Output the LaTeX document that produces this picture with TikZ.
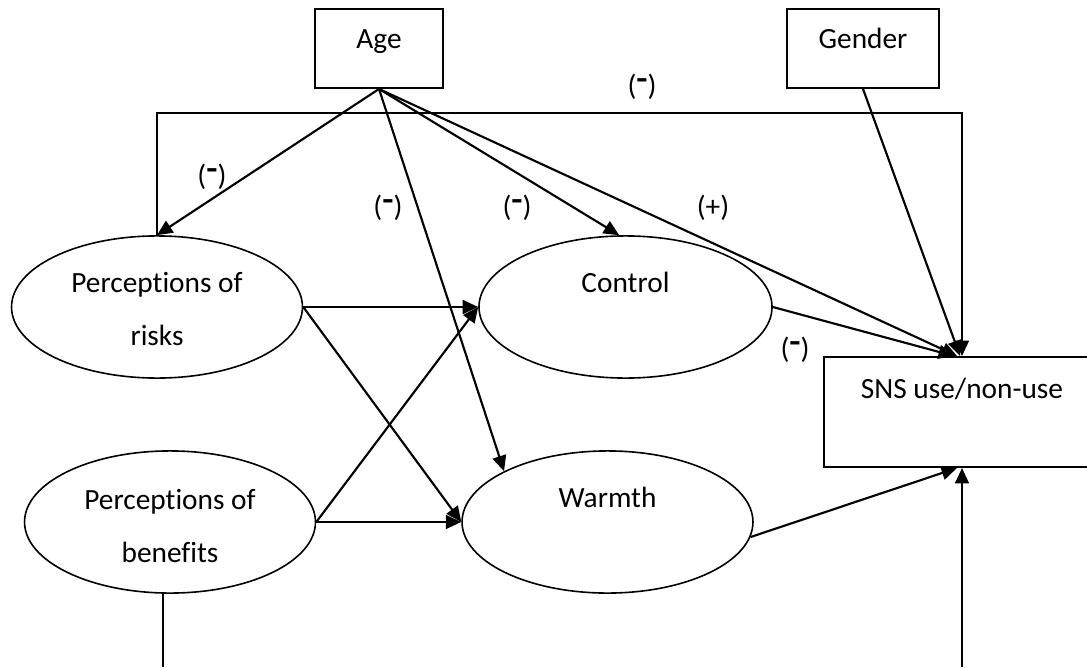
\documentclass[tikz,border=0pt]{standalone}
\usepackage{fontspec}
\setmainfont{Carlito}[Ligatures=NoCommon]
\usetikzlibrary{arrows.meta,shapes.geometric,calc}

% text lifted off the node centre without changing the node size
\newcommand\lift[2]{\raisebox{#1}[0pt][0pt]{\makebox[0pt]{#2}}}
\newcommand\twolines[2]{\parbox[t]{110pt}{\centering\baselineskip=19.9pt #1\\#2}}
\newcommand\negsign{(\raisebox{.2em}{\textbf{\scalebox{1.25}[1.1]{-}}})}

\begin{document}
\begin{tikzpicture}[
  x=0.375pt, y=-0.375pt,
  font=\fontsize{11}{13}\selectfont,
  latentell/.style={ellipse, draw, line width=0.6pt, inner sep=0pt,
                    minimum width=109.1pt, minimum height=53.3pt},
  obsbox/.style={rectangle, draw, line width=0.75pt, inner sep=0pt,
                 minimum height=29.6pt},
  effarrow/.style={line width=0.8pt, -{Triangle[length=5.8pt,width=5.2pt]}},
  plainline/.style={line width=0.75pt},
  signlabel/.style={inner sep=0pt}
]
\clip (0,0) rectangle (1087,667);
\useasboundingbox (0,0) rectangle (1087,667);

% observed variables
\node[obsbox, minimum width=48pt] (age) at (379,48.5) {\lift{0pt}{Age}};
\node[obsbox, minimum width=57pt] (gender) at (863,48.5) {\lift{0pt}{Gender}};
\node[obsbox, minimum width=103.5pt, minimum height=41.25pt] (sns) at (962,412)
     {\lift{4.9pt}{SNS use/non-use}};

% latent constructs
\node[latentell] (risks) at (157,307) {\lift{5.6pt}{\twolines{Perceptions of}{risks}}};
\node[latentell] (benefits) at (170,522) {\lift{4.7pt}{\twolines{Perceptions of}{benefits}}};
\node[latentell, minimum width=109.9pt] (ctrl) at (625.5,307) {\lift{5.4pt}{Control}};
\node[latentell] (warmth) at (607.5,522) {\lift{5.6pt}{Warmth}};

% loose ends at the lower edge
\coordinate (topbar) at (0,113);
\coordinate (lowA) at (163,667);
\coordinate (lowB) at (962,667);

% direct path from risks to use
\draw[effarrow] (risks.north) |- (sns.north |- topbar) -- (sns.north);

% effects of age
\draw[effarrow] (age.south) -- (risks.north);
\draw[effarrow] (age.south) -- (warmth.north west);
\draw[effarrow] (age.south) -- (ctrl.95);
\draw[effarrow] (age.south) -- ($(sns.north)+(-5,0)$);

% effect of gender
\draw[effarrow] (gender.south) -- ($(sns.north)+(-2,0)$);

% perceptions to control and warmth
\draw[effarrow] (risks.east) -- (ctrl.west);
\draw[effarrow] (risks.east) -- (warmth.west);
\draw[effarrow] (benefits.east) -- (ctrl.west);
\draw[effarrow] (benefits.east) -- (warmth.west);

% control and warmth to use
\draw[effarrow] (ctrl.east) -- ($(sns.north)+(-8,0)$);
\draw[effarrow] (warmth.-6) -- ($(sns.south)+(-5,0)$);

% paths continuing below
\draw[plainline] (lowA |- benefits.south) -- (lowA);
\draw[effarrow] (lowB) -- (sns.south);

% signs of the effects
\node[signlabel] (s1) at (642,87) {\negsign};
\node[signlabel] (s2) at (212,177) {\negsign};
\node[signlabel] (s3) at (388,208) {\negsign};
\node[signlabel] (s4) at (517,208) {\negsign};
\node[signlabel] (s5) at (713,208) {(+)};
\node[signlabel] (s6) at (795,350) {\negsign};
\end{tikzpicture}
\end{document}
